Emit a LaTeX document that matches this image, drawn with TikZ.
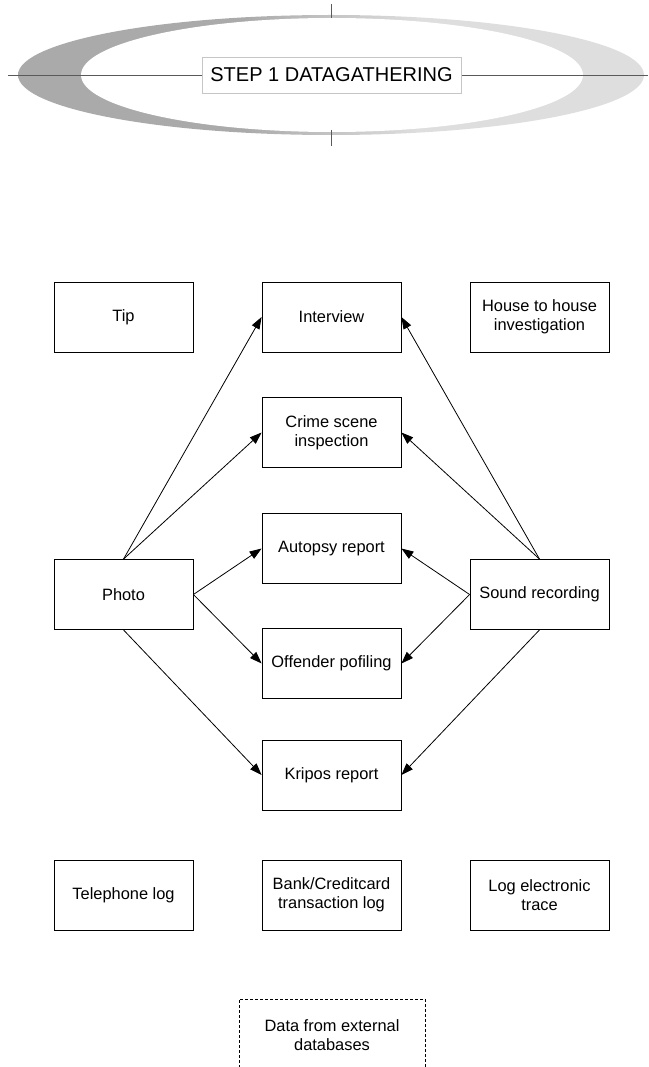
\documentclass[tikz,border=0pt]{standalone}
\usepackage{fontspec}
\setmainfont{Liberation Sans}
\usetikzlibrary{positioning,arrows.meta}

\definecolor{ringdark}{RGB}{170,170,170}
\definecolor{ringlight}{RGB}{222,222,222}
\definecolor{axisgray}{RGB}{90,90,90}
% flat grey on the left, flat light grey on the right, blend in the middle
\pgfdeclarehorizontalshading{ringshade}{100bp}{color(0bp)=(ringdark); color(43bp)=(ringdark); color(57bp)=(ringlight); color(100bp)=(ringlight)}

\begin{document}
\begin{tikzpicture}[x=1pt,y=-1pt,
		box/.style={draw,line width=0.8pt,minimum width=139pt,minimum height=70pt,inner sep=0pt,align=center,font=\fontsize{16.4}{19}\selectfont},
		extbox/.style={box,dash pattern=on 3pt off 2pt,minimum width=186pt,minimum height=72pt},
		arr/.style={line width=0.8pt,-{Triangle[length=12pt,width=8.5pt]}}]
	\useasboundingbox (0,0) rectangle (648,1067);

	% title ring
	\shade[shading=ringshade] (331,75) ellipse [x radius=313pt,y radius=60pt];
	\fill[white] (332,75) ellipse [x radius=251pt,y radius=57pt];
	\coordinate (axisW) at (8,75);
	\coordinate (axisE) at (648,75);
	\coordinate (tickN1) at (331,4);
	\coordinate (tickN2) at (331,18);
	\coordinate (tickS1) at (331,130);
	\coordinate (tickS2) at (331,146);
	\draw[axisgray,line width=0.8pt] (axisW) -- (axisE);
	\draw[axisgray,line width=0.8pt] (tickN1) -- (tickN2);
	\draw[axisgray,line width=0.8pt] (tickS1) -- (tickS2);
	\node[draw=gray!45,fill=white,minimum width=259pt,minimum height=36pt,inner sep=0pt,font=\fontsize{20}{24}\selectfont] at (331.5,75) (title) {STEP 1 DATAGATHERING};

	% sources
	\node[box] at (123.5,317) (tip) {Tip};
	\node[box] at (331.5,317) (interview) {Interview};
	\node[box] at (539.5,317) (house) {House to house\\investigation};
	\node[box] at (331.5,432.5) (crime) {Crime scene\\inspection};
	\node[box] at (331.5,548.5) (autopsy) {Autopsy report};
	\node[box] at (123.5,594.5) (photo) {Photo};
	\node[box] at (539.5,594.5) (sound) {Sound recording};
	\node[box] at (331.5,663.5) (offender) {Offender pofiling};
	\node[box] at (331.5,775) (kripos) {Kripos report};
	\node[box] at (123.5,895) (phone) {Telephone log};
	\node[box] at (331.5,895) (bank) {Bank/Creditcard\\transaction log};
	\node[box] at (539.5,895) (trace) {Log electronic\\trace};
	\node[extbox] at (332,1035) (external) {Data from external\\databases};

	% links
	\draw[arr] (photo.north) -- (interview.west);
	\draw[arr] (photo.north) -- (crime.west);
	\draw[arr] (photo.east) -- (autopsy.west);
	\draw[arr] (photo.east) -- (offender.west);
	\draw[arr] (photo.south) -- (kripos.west);
	\draw[arr] (sound.north) -- (interview.east);
	\draw[arr] (sound.north) -- (crime.east);
	\draw[arr] (sound.west) -- (autopsy.east);
	\draw[arr] (sound.west) -- (offender.east);
	\draw[arr] (sound.south) -- (kripos.east);
\end{tikzpicture}
\end{document}
